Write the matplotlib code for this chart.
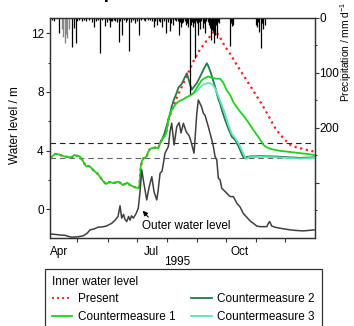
import matplotlib
matplotlib.use("Agg")
import matplotlib.pyplot as plt
from matplotlib.lines import Line2D
import numpy as np

plt.rcParams['font.family'] = ['Liberation Sans', 'DejaVu Sans']
plt.rcParams['mathtext.default'] = 'regular'

# ---------------- data (x = day of year 1995) ----------------
cm1_doy = [93, 95, 98, 101, 103, 108, 113, 115, 118, 120, 123.5, 127, 129, 130.5, 132, 134, 136, 139, 142, 144,
           147, 149.4, 150.4, 152.8, 154.6, 158, 161, 163, 165, 167.6, 170, 172.3, 174, 177, 179, 182, 184.4,
           185.4, 186.1, 187.5, 188.8, 192.3, 193.6, 195.7, 197.5, 201, 204.2, 206, 207.8, 210.2, 212.2, 214,
           215.3, 218, 220.4, 223.2, 226.6, 230, 233.6, 236.9, 240.3, 243.1, 245.4, 248.9, 252.3, 255.7, 259.6,
           263.7, 267.8, 270.9, 274.7, 278.1, 281.5, 285, 288.4, 291.8, 296.6, 302.1, 307, 312.5, 316.3, 321,
           329.6, 336.5, 350.2, 357.4, 364.6]
cm1_val = [3.47, 3.6, 3.77, 3.75, 3.7, 3.59, 3.55, 3.54, 3.7, 3.65, 3.59, 3.25, 3.0, 2.9, 2.95, 2.9, 2.75, 2.56,
           2.4, 2.22, 1.95, 1.77, 1.72, 1.81, 1.85, 1.77, 1.85, 1.88, 1.8, 1.65, 1.72, 1.81, 1.7, 1.59, 1.52,
           1.47, 1.43, 2.1, 2.9, 3.3, 3.47, 3.59, 3.9, 4.1, 4.16, 4.2, 4.16, 4.5, 4.72, 4.95, 5.18, 5.86, 6.3,
           6.77, 7.0, 7.25, 7.4, 7.5, 7.65, 7.75, 7.9, 8.2, 8.45, 8.8, 8.95, 9.05, 8.95, 8.9, 8.9, 8.65, 8.1,
           7.8, 7.3, 6.95, 6.65, 6.4, 5.95, 5.4, 4.95, 4.38, 4.2, 4.09, 3.98, 3.93, 3.82, 3.77, 3.7]

present_doy = [214.5, 218.4, 222.5, 226.6, 230.8, 235, 240, 247.2, 255.7, 260.6, 263.7, 267.8, 272.9, 278.1,
               285.4, 293.6, 301.8, 309, 314, 319.3, 324.4, 329.6, 334.7, 339.9, 345, 350.2, 357.4, 364.6]
present_val = [6.09, 6.8, 7.5, 8.1, 8.7, 9.3, 10.05, 10.9, 11.65, 12.05, 12.1, 11.7, 11.1, 10.6, 9.8, 8.95,
               8.1, 7.35, 6.8, 6.15, 5.55, 5.1, 4.72, 4.4, 4.25, 4.16, 4.04, 3.93]

cm2_doy = [206, 207.8, 210.2, 212.9, 216.3, 218, 220.4, 223.2, 224.9, 228.4, 230.8, 233.6, 234.8, 236.9, 238.7,
           240.3, 243.8, 246.2, 248.9, 251.3, 254.2, 255.4, 257.5, 260.1, 262.6, 266, 267.8, 269.9, 272.9,
           276.3, 279.8, 283.3, 286.7, 290.3, 292.1, 294.6, 298.7, 309, 323.3, 336.5, 350.2, 364.6]
cm2_val = [4.5, 4.72, 5.1, 5.7, 6.5, 7.0, 7.5, 7.95, 8.3, 8.55, 8.9, 9.27, 9.0, 8.5, 8.15, 8.3, 8.6, 8.9, 9.27,
           9.6, 9.95, 9.8, 9.45, 8.9, 8.36, 7.5, 7.2, 6.7, 6.1, 5.5, 4.95, 4.72, 4.3, 3.75, 3.5, 3.55, 3.6,
           3.62, 3.6, 3.55, 3.5, 3.54]

cm3_doy = [240, 243.8, 247.2, 250.6, 254.4, 257.5, 260.6, 262.6, 266, 269.5, 272.9, 276.3, 279.8, 283.3, 286.7,
           290.3, 293, 294.6, 297.7, 309, 323.3, 350.2, 364.6]
cm3_val = [7.9, 8.05, 8.3, 8.5, 8.6, 8.6, 8.45, 8.25, 7.7, 7.1, 6.5, 5.75, 5.15, 4.85, 4.5, 4.0, 3.6, 3.42,
           3.55, 3.57, 3.55, 3.45, 3.5]

outer_doy = [93, 98, 103, 108, 113, 115, 121.5, 126.6, 130.8, 133.9, 138, 142.1, 147.3, 151.1, 156.3, 159.6,
             162.7, 164.8, 166.5, 168.4, 169.9, 171.7, 173.6, 175.1, 176.6, 178.5, 181.3, 183.6, 185.4, 187.2,
             189.0, 192.3, 194.7, 197.5, 199.8, 202.6, 203.9, 206.0, 208.1, 211.1, 214.5, 216.3, 218.0, 220.4,
             223.2, 225.6, 227.6, 230.0, 232.8, 236.0, 237.9, 241.0, 243.8, 245.4, 247.2, 248.9, 250.6, 252.3,
             255.7, 259.3, 260.9, 262.6, 264.4, 266.0, 267.8, 269.5, 271.2, 274.7, 278.1, 281.5, 285.0, 288.4,
             291.8, 294.6, 298.7, 301.8, 305.6, 309.0, 315.9, 317.2, 318.8, 321.0, 324.4, 329.6, 339.9, 346.1,
             353.6, 358.4, 364.6]
outer_val = [-1.69, -1.72, -1.76, -1.78, -1.88, -1.91, -1.88, -1.82, -1.65, -1.41, -1.35, -1.23, -1.2, -1.14,
             -0.96, -0.75, -0.5, 0.23, -0.61, -0.35, -0.7, -0.84, -0.5, -0.75, -0.45, -0.61, -0.3, 0.07, 1.2,
             2.68, 1.9, 0.63, 1.5, 2.22, 1.2, 0.63, 1.2, 2.45, 2.6, 3.82, 4.27, 5.3, 5.86, 4.38, 5.63, 5.9,
             5.2, 5.86, 5.3, 5.0, 4.6, 3.82, 6.5, 7.45, 7.2, 6.95, 6.54, 6.4, 5.63, 4.72, 4.27, 3.59, 3.36,
             2.11, 2.0, 1.43, 1.32, 1.09, 0.86, 0.86, 0.41, 0.15, -0.3, -0.5, -0.8, -0.95, -1.15, -1.19, -1.19,
             -1.0, -0.84, -1.15, -1.23, -1.3, -1.41, -1.45, -1.48, -1.45, -1.41]

precip_doy = [95, 97, 102, 115, 117, 119, 121, 123, 126, 128, 130, 133, 136, 138, 140, 142, 144, 146, 149, 151,
              153, 154, 156, 157, 159, 160, 162, 164, 165, 167, 169, 171, 172, 174, 176, 178, 180, 182, 184,
              186, 189, 191, 194, 196, 198, 200, 201, 203, 205, 206, 208, 210, 212, 214, 216, 217, 219, 221,
              222, 224, 225, 227, 228, 229, 230, 232, 233, 234, 235, 237, 238, 239, 240, 241, 242, 243, 244,
              245, 246, 247, 248, 250, 251, 252, 253, 255, 256, 257, 258, 259, 260, 261, 262, 263, 264, 265,
              266, 267, 278, 279, 280, 281, 305, 306, 307, 308, 310, 311, 312, 314]
precip_mm = [3, 5, 27, 53, 18, 46, 6, 3, 5, 4, 6, 3, 7, 16, 6, 4, 63, 3, 15, 8,
             4, 16, 5, 6, 4, 5, 8, 43, 5, 31, 4, 8, 3, 61, 8, 4, 10, 5, 31,
             3, 4, 6, 4, 3, 5, 16, 6, 12, 5, 8, 16, 6, 28, 7, 24, 9, 12, 4,
             6, 5, 31, 8, 16, 10, 8, 6, 12, 9, 16, 138, 12, 7, 16, 9, 73, 6, 10,
             31, 8, 20, 6, 18, 9, 27, 6, 8, 12, 18, 40, 22, 10, 24, 46, 31, 12, 36,
             8, 10, 51, 9, 15, 12, 12, 16, 8, 25, 55, 10, 20, 12]
precip_grey_doy = [105, 106, 108, 109, 110, 112]
precip_grey_mm = [20, 34, 45, 30, 37, 20]

month_starts = [121, 152, 182, 213, 244, 274, 305, 335]
month_label_pos = [102, 197, 288]
month_labels = ['Apr', 'Jul', 'Oct']

# ---------------- figure ----------------
W, H = 354, 326
fig = plt.figure(figsize=(W / 100, H / 100), dpi=100)
ax = fig.add_axes([50 / W, 1 - 237.5 / H, 264.5 / W, 219.5 / H])
ax2 = ax.twinx()

FS = 8.5
spine_c = '#333333'

ax.axhline(4.5, color='#222222', lw=0.8, ls=(0, (5, 3.5)), zorder=1)
ax.axhline(3.5, color='#666666', lw=0.8, ls=(0, (5, 3.5)), zorder=1)

pres_x = [d for d in cm1_doy if d < 214.5] + present_doy
pres_y = [v for d, v in zip(cm1_doy, cm1_val) if d < 214.5] + present_val
ax.plot(pres_x, pres_y, color='#ff2020', lw=1.6, ls=(0, (1, 1.6)), zorder=2)
ax.plot(cm2_doy, cm2_val, color='#227a4a', lw=1.3, zorder=3)
ax.plot(cm3_doy, cm3_val, color='#5fe3b8', lw=1.3, zorder=3)
ax.plot(cm1_doy, cm1_val, color='#1fd01f', lw=1.3, zorder=4)
ax.plot(outer_doy, outer_val, color='#404040', lw=1.1, zorder=5)

ax.annotate('Outer water level', xy=(188.2, -0.1), xytext=(187.2, -1.14),
            fontsize=FS, ha='left', va='center',
            arrowprops=dict(arrowstyle='-|>', color='black', lw=0.8, mutation_scale=7,
                            relpos=(0.1, 1.0), shrinkA=0, shrinkB=0))

ax.set_xlim(92.7, 365)
ax.set_ylim(-1.93, 13.04)
ax.set_xticks(month_starts)
ax.set_xticklabels([])
ax.set_xticks(month_label_pos, minor=True)
ax.set_xticklabels(month_labels, minor=True, fontsize=FS)
ax.tick_params(axis='x', which='major', length=3, width=0.8, direction='out', color=spine_c)
ax.tick_params(axis='x', which='minor', length=0, pad=6)
ax.set_yticks([0, 4, 8, 12])
ax.set_yticks([2, 6, 10], minor=True)
ax.tick_params(axis='y', which='major', length=3, width=0.8, pad=1.5, labelsize=FS, color=spine_c)
ax.tick_params(axis='y', which='minor', length=1.8, width=0.8, color=spine_c)

ax2.vlines(precip_grey_doy, 0, precip_grey_mm, color='#888888', lw=1.0)
ax2.vlines(precip_doy, 0, precip_mm, color='black', lw=0.9)
ax2.set_ylim(400, 0)
ax2.set_yticks([0, 100, 200, 300])
ax2.set_yticklabels(['0', '100', '200', ''])
ax2.set_yticks([50, 150, 250, 350], minor=True)
ax2.tick_params(axis='y', which='major', length=2.6, width=0.8, pad=0.8, labelsize=FS, color=spine_c)
ax2.tick_params(axis='y', which='minor', length=1.5, width=0.8, color=spine_c)

for a in (ax, ax2):
    for s in a.spines.values():
        s.set_color(spine_c)
        s.set_linewidth(0.9)

fig.text(15 / W, 1 - 125 / H, 'Water level / m', rotation=90, ha='center', va='center', fontsize=FS)
fig.text(346 / W, 1 - 52 / H, 'Precipitation / mm d$^{-1}$', rotation=90, ha='center', va='center',
         fontsize=7.4)
fig.text(0.5, 1 - 262 / H, '1995', ha='center', va='center', fontsize=FS)
fig.text(57 / W, 1 + 1.5 / H, 'Group results', ha='left', va='baseline', fontsize=14, fontweight='bold')

handles = [Line2D([], [], color='#ff2020', lw=1.4, ls=(0, (1, 1.6))),
           Line2D([], [], color='#1fd01f', lw=1.3),
           Line2D([], [], color='#227a4a', lw=1.3),
           Line2D([], [], color='#5fe3b8', lw=1.3)]
labels = ['Present', 'Countermeasure 1', 'Countermeasure 2', 'Countermeasure 3']
leg = fig.legend(handles, labels, loc='upper left', ncol=2,
                 bbox_to_anchor=(45 / W, 0, 277 / W, 1 - 268.5 / H), mode='expand',
                 title='Inner water level', alignment='left', fontsize=FS, title_fontsize=FS,
                 frameon=True, fancybox=False, edgecolor=spine_c, framealpha=1,
                 handlelength=1.7, handletextpad=0.5, columnspacing=0.6, labelspacing=0.5,
                 borderpad=0.6, borderaxespad=0)
leg.get_frame().set_linewidth(0.9)

fig.savefig('out.png', dpi=100)
